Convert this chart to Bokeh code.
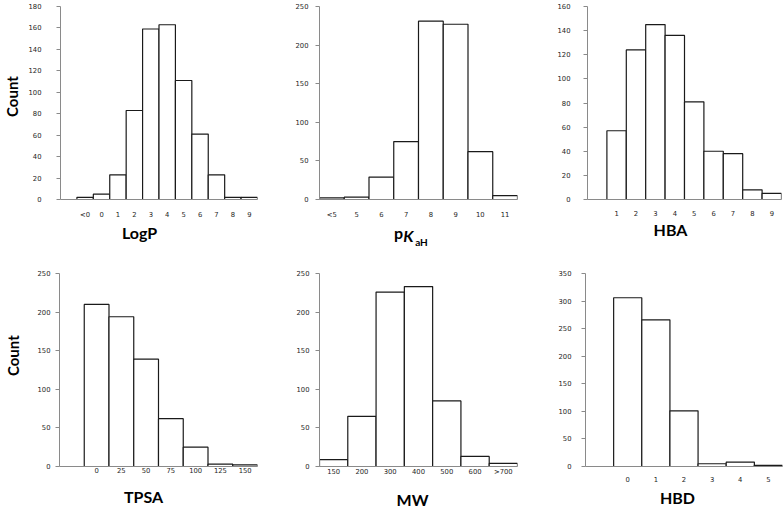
from bokeh.plotting import figure
from bokeh.layouts import column, row
from bokeh.models import Range1d, FixedTicker, ColumnDataSource, LinearAxis
from bokeh.embed import file_html
from bokeh.resources import INLINE

# ---------------- data ----------------
logp_labels = ["<0", "0", "1", "2", "3", "4", "5", "6", "7", "8", "9"]
logp_counts = [2, 5, 23, 83, 159, 163, 111, 61, 23, 2, 2]

pka_labels = ["<5", "5", "6", "7", "8", "9", "10", "11"]
pka_counts = [2, 3, 29, 75, 231, 227, 62, 5]

hba_labels = ["1", "2", "3", "4", "5", "6", "7", "8", "9"]
hba_counts = [57, 124, 145, 136, 81, 40, 38, 8, 5]

tpsa_labels = ["0", "25", "50", "75", "100", "125", "150"]
tpsa_counts = [210, 194, 139, 62, 25, 3, 2]

mw_labels = ["150", "200", "300", "400", "500", "600", ">700"]
mw_counts = [9, 65, 226, 233, 85, 13, 4]

hbd_labels = ["0", "1", "2", "3", "4", "5"]
hbd_counts = [306, 266, 101, 5, 8, 2]

y_max = [180, 250, 160, 250, 250, 350]
y_step = [20, 50, 20, 50, 50, 50]

# ---------------- layout (page pixels) ----------------
col_edges = [0, 285, 545, 784]
row_edges = [0, 255, 511]

# frame extents: left, right, top, bottom
frames = [
    (60, 257, 6, 199), (319, 517, 6, 199), (587, 781, 6, 199),
    (59, 257, 273, 468), (319, 517, 273, 468), (585, 782, 273, 468),
]
lead_empty = [True, False, True, True, False, True]
ylab_standoff = [15, 7, 13, 5, 6, 10]
xlab_standoff = [11, 11, 11, 1, 1, 10]

TICK_FONT = "DejaVu Sans"
TITLE_FONT = "Lato"
AXIS_GRAY = "#8a8a8a"

# title pieces: (text, page x centre, standoff, size, style)
titles = [
    [("LogP", 139, 1, "16px", "bold")],
    [("p", 398, 1, "16px", "bold"), ("K", 408, -19, "16px", "bold italic"),
     ("aH", 421, -12, "10px", "bold")],
    [("HBA", 670, 1, "16px", "bold")],
    [("TPSA", 143, 11, "16px", "bold")],
    [("MW", 412, 11, "16px", "bold")],
    [("HBD", 677, 3, "16px", "bold")],
]
count_y = [96, 356]
count_standoff = [4, 12]

panels = [
    (logp_labels, logp_counts), (pka_labels, pka_counts), (hba_labels, hba_counts),
    (tpsa_labels, tpsa_counts), (mw_labels, mw_counts), (hbd_labels, hbd_counts),
]


def text_axis(pos, text, size, style, standoff, orientation="horizontal"):
    ax = LinearAxis(ticker=FixedTicker(ticks=[pos]),
                    major_label_overrides={pos: text})
    ax.axis_line_color = None
    ax.major_tick_line_color = None
    ax.minor_tick_line_color = None
    ax.major_tick_out = 0
    ax.major_tick_in = 0
    ax.minor_tick_out = 0
    ax.minor_tick_in = 0
    ax.major_label_standoff = standoff
    ax.major_label_text_font = TITLE_FONT
    ax.major_label_text_font_style = style
    ax.major_label_text_font_size = size
    ax.major_label_text_color = "black"
    ax.major_label_orientation = orientation
    return ax


figs = []
for k, (labels, counts) in enumerate(panels):
    r, c = divmod(k, 3)
    x0, x1 = col_edges[c], col_edges[c + 1]
    y0, y1 = row_edges[r], row_edges[r + 1]
    L, R, T, B = frames[k]
    n = len(labels)
    xa = -1.5 if lead_empty[k] else -0.5
    xb = n - 0.5
    ym = y_max[k]
    p = figure(width=x1 - x0, height=y1 - y0,
               x_range=Range1d(xa, xb), y_range=Range1d(0, ym),
               output_backend="svg", toolbar_location=None,
               min_border_left=L - x0, min_border_right=x1 - R,
               min_border_top=T - y0, min_border_bottom=y1 - B)
    p.outline_line_color = None
    p.xgrid.visible = False
    p.ygrid.visible = False
    src = ColumnDataSource(dict(x=list(range(n)), top=counts))
    p.vbar(x="x", top="top", bottom=0, width=1.0, source=src,
           fill_color="white", line_color="#1a1a1a", line_width=1.2)

    xax = p.xaxis[0]
    xax.ticker = FixedTicker(ticks=list(range(n)))
    xax.major_label_overrides = {i: lab for i, lab in enumerate(labels)}
    xax.major_tick_out = 0
    xax.major_tick_in = 0
    xax.minor_tick_out = 0
    xax.minor_tick_in = 0
    xax.axis_line_color = AXIS_GRAY
    xax.major_label_standoff = xlab_standoff[k]
    xax.major_label_text_font = TICK_FONT
    xax.major_label_text_font_size = "6.8px"
    xax.major_label_text_color = "#262626"

    yax = p.yaxis[0]
    yax.ticker = FixedTicker(ticks=list(range(0, ym + 1, y_step[k])))
    yax.major_tick_out = 4
    yax.major_tick_in = 0
    yax.minor_tick_out = 0
    yax.minor_tick_in = 0
    yax.axis_line_color = AXIS_GRAY
    yax.major_tick_line_color = AXIS_GRAY
    yax.major_label_standoff = ylab_standoff[k]
    yax.major_label_text_font = TICK_FONT
    yax.major_label_text_font_size = "6.8px"
    yax.major_label_text_color = "#262626"

    def dx(px, L=L, R=R, xa=xa, xb=xb):
        return round(xa + (px - L) / (R - L) * (xb - xa), 4)
    def dy(py, T=T, B=B, ym=ym):
        return round(ym - (py - T) / (B - T) * ym, 4)

    for (txt, tx, so, size, style) in titles[k]:
        p.add_layout(text_axis(dx(tx), txt, size, style, so), "below")
    if c == 0:
        p.add_layout(text_axis(dy(count_y[r]), "Count", "15px", "bold",
                               count_standoff[r], "vertical"), "left")
    figs.append(p)

layout = column(row(*figs[:3], spacing=0), row(*figs[3:], spacing=0), spacing=0)
open("out.html", "w").write(file_html(layout, INLINE))
